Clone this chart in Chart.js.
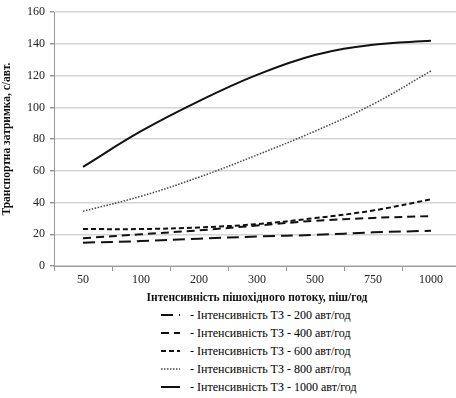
<!DOCTYPE html>
<html>
<head>
<meta charset="utf-8">
<script src="https://cdn.jsdelivr.net/npm/chart.js@4.4.1/dist/chart.umd.min.js"></script>
<style>
    html, body { margin: 0; padding: 0; background: #fff; overflow: hidden; }
    #wrap { position: relative; width: 462px; height: 305px; }
    #legend {
        position: absolute; left: 158px; top: 306px;
        font-family: 'Liberation Serif', 'Times New Roman', serif; font-size: 12px; color: #000;
    }
    .row { display: flex; align-items: center; height: 18px; }
    .row svg { width: 30px; height: 6px; margin-right: 2px; }
</style>
</head>
<body>
<div id="wrap"><canvas id="chart" width="462" height="305"></canvas></div>
<div id="legend"></div>
<script>
const categories = ['50', '100', '200', '300', '500', '750', '1000'];
const seriesNames = [
    '- Інтенсивність ТЗ - 200 авт/год',
    '- Інтенсивність ТЗ - 400 авт/год',
    '- Інтенсивність ТЗ - 600 авт/год',
    '- Інтенсивність ТЗ - 800 авт/год',
    '- Інтенсивність ТЗ - 1000 авт/год'
];
const ts200 = [14.7, 15.7, 17.2, 18.6, 19.6, 21.2, 22.2];
const ts400 = [17.5, 20, 22.5, 25.5, 28.5, 30.3, 31.5];
const ts600 = [23.3, 23.3, 24.3, 26.4, 30.2, 35, 42];
const ts800 = [34.5, 44, 56, 70, 85, 102, 123];
const ts1000 = [62.5, 85, 104, 120.5, 133, 139.5, 142];
const yTicks = [0, 20, 40, 60, 80, 100, 120, 140, 160];

const dashes = [[12, 6], [8, 5], [5, 3], [1.5, 1.5], []];
const widths = [2, 2, 2, 1.5, 2];
const allData = [ts200, ts400, ts600, ts800, ts1000];

const datasets = allData.map((d, i) => ({
    label: seriesNames[i],
    data: d,
    borderColor: i === 3 ? '#444' : '#111',
    borderWidth: widths[i],
    borderDash: dashes[i],
    pointRadius: 0,
    tension: 0.4,
    fill: false
}));

const serif = "'Liberation Serif', 'Times New Roman', serif";

new Chart(document.getElementById('chart'), {
    type: 'line',
    data: { labels: categories, datasets: datasets },
    options: {
        responsive: false,
        animation: false,
        devicePixelRatio: 1,
        layout: { padding: { top: 11, right: 2, left: 0, bottom: 0 } },
        plugins: { legend: { display: false }, tooltip: { enabled: false } },
        scales: {
            x: {
                offset: true,
                grid: { drawOnChartArea: false, drawTicks: true, tickLength: 5, offset: true, color: '#999' },
                border: { color: '#999', width: 1 },
                ticks: { color: '#222', font: { family: serif, size: 12 }, padding: 2, maxRotation: 0 },
                title: {
                    display: true, text: 'Інтенсивність пішохідного потоку, піш/год',
                    color: '#111', font: { family: serif, size: 11.5, weight: 'bold' }, padding: { top: 1, bottom: 0 }
                },
                afterFit: s => { s.height = 39; }
            },
            y: {
                min: 0, max: 160,
                afterBuildTicks: s => { s.ticks = yTicks.map(v => ({ value: v })); },
                grid: { color: '#d4d4d4', lineWidth: 1.5, tickLength: 4, tickColor: '#999' },
                border: { color: '#999', width: 1 },
                ticks: { color: '#222', font: { family: serif, size: 12 }, padding: 5 },
                title: {
                    display: true, text: 'Транспортна затримка, с/авт.',
                    color: '#111', font: { family: serif, size: 11.5, weight: 'bold' }, padding: { top: 0, bottom: 3 }
                },
                afterFit: s => { s.width = 54; }
            }
        }
    }
});

// legend, one row per series
const legend = document.getElementById('legend');
datasets.forEach(ds => {
    const row = document.createElement('div');
    row.className = 'row';
    const dash = ds.borderDash.length ? ds.borderDash.join(',') : 'none';
    row.innerHTML = '<svg viewBox="0 0 30 6"><line x1="3" y1="3" x2="22" y2="3" stroke="' + ds.borderColor +
        '" stroke-width="' + ds.borderWidth + '" stroke-dasharray="' + dash + '"/></svg><span>' + ds.label + '</span>';
    legend.appendChild(row);
});
</script>
</body>
</html>
